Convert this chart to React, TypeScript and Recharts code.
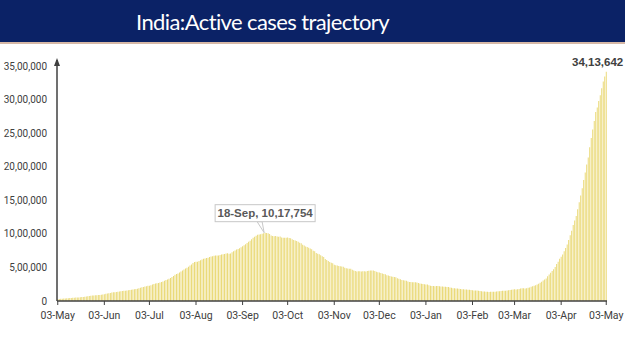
import { BarChart, Bar, XAxis, YAxis, LabelList } from 'recharts'

// daily active cases, 03-May-2020 .. 03-May-2021
const startDate = '2020-05-03'

const may20 = [
  28046, 29453, 32138, 33514, 35902, 37916, 39834, 41472, 44029, 46008,
  47480, 49219, 51401, 53035, 53946, 56316, 58802, 61149, 63624, 66330,
  69597, 73560, 77103, 80722, 83004, 86110, 86422, 89987, 89995,
]
const jun20 = [
  93322, 97581, 101497, 106737, 110960, 115942, 119293, 125381, 129917, 129215,
  133632, 137448, 141842, 145779, 149348, 153106, 153178, 155227, 160384, 163248,
  168269, 169451, 174387, 178014, 183022, 189463, 197387, 203051, 210120, 215125,
]
const jul20 = [
  220114, 226947, 227439, 235433, 244814, 253287, 259557, 264944, 269789, 276882,
  283407, 292258, 301609, 311565, 319840, 331146, 342473, 358692, 373379, 390459,
  402529, 411133, 426167, 440135, 456071, 467882, 485114, 496988, 509447, 528242, 545318,
]
const aug20 = [
  565103, 579357, 586244, 586298, 595501, 607384, 619088, 628747, 634945, 639929,
  643948, 653622, 661595, 668220, 673166, 676514, 677444, 676900, 686395, 692028,
  697330, 698850, 707668, 710771, 704348, 707267, 725991, 742023, 752424, 765302, 774000,
]
const sep20 = [
  785996, 801282, 815538, 831124, 846395, 862320, 883697, 897394, 919018, 943480,
  958316, 973175, 986598, 990061, 995933, 1003299, 1009976, 1017754, 1013964, 1010824,
  997871, 975861, 968377, 966382, 970116, 960969, 956402, 962640, 947576, 940441,
]
const oct20 = [
  942217, 940705, 944996, 937625, 934427, 919023, 907883, 902425, 893592, 883185,
  867496, 861853, 838729, 826876, 812390, 804528, 795087, 783311, 772055, 748538,
  740090, 715812, 703440, 695509, 680680, 668154, 653717, 625857, 610803, 594386, 582649,
]
const nov20 = [
  570458, 561908, 541405, 533787, 527962, 520773, 516632, 512665, 509673, 494657,
  489294, 484547, 480719, 479216, 465478, 453401, 445692, 439747, 443794, 443303,
  440962, 443486, 444746, 438667, 447803, 452344, 454940, 455555, 453956, 446952,
]
const dec20 = [
  435603, 428644, 422943, 416082, 409689, 403248, 396729, 383866, 378909, 372293,
  363749, 359819, 356546, 352586, 339820, 332002, 322366, 313831, 308751, 303639,
  300881, 289240, 283849, 281919, 278690, 281000, 279000, 277301, 268581, 262272, 257656,
]
const jan21 = [
  254254, 250183, 247220, 243953, 234000, 228083, 224190, 222526, 220676, 223335,
  222416, 219000, 216558, 214507, 213603, 211033, 208826, 206762, 200528, 197201,
  190581, 188688, 187000, 185662, 184182, 178818, 176498, 173740, 172018, 171686, 168784,
]
const feb21 = [
  166000, 163353, 160057, 158000, 155025, 154703, 151460, 149000, 145000, 142562,
  140000, 138000, 136872, 135926, 136549, 137342, 138373, 139542, 143127, 145634,
  146907, 150055, 151708, 153000, 154000, 156800, 160000, 164511,
]
const mar21 = [
  168358, 170126, 173413, 173000, 176319, 180304, 184523, 188747, 189226, 187462,
  191000, 197237, 202022, 210544, 219262, 228569, 234406, 246000, 258000, 271282,
  288394, 303639, 320000, 334646, 368457, 395192, 421066, 446000, 473000, 505000, 552566,
]
const apr21 = [
  584055, 630000, 658909, 691597, 741830, 791000, 843473, 910319, 979608, 1046631,
  1133000, 1201009, 1264698, 1366000, 1471877, 1573000, 1679740, 1801316, 1913000, 2031977,
  2138000, 2291428, 2428000, 2552940, 2682751, 2813658, 2882204, 2978709, 3064000, 3168000,
]
const may21 = [3268710, 3345000, 3413642]

const tickDates = [
  '2020-05-03', '2020-06-03', '2020-07-03', '2020-08-03', '2020-09-03', '2020-10-03',
  '2020-11-03', '2020-12-03', '2021-01-03', '2021-02-03', '2021-03-03', '2021-04-03',
  '2021-05-03',
]
const yTicks = [0, 500000, 1000000, 1500000, 2000000, 2500000, 3000000, 3500000]

const peakLabel = '18-Sep, 10,17,754'
const lastLabel = '34,13,642'

const months = ['Jan', 'Feb', 'Mar', 'Apr', 'May', 'Jun', 'Jul', 'Aug', 'Sep', 'Oct', 'Nov', 'Dec']

const values = [
  ...may20, ...jun20, ...jul20, ...aug20, ...sep20, ...oct20,
  ...nov20, ...dec20, ...jan21, ...feb21, ...mar21, ...apr21, ...may21,
]

const data = values.map((active, i) => {
  const d = new Date(startDate + 'T00:00:00Z')
  d.setUTCDate(d.getUTCDate() + i)
  return { date: d.toISOString().slice(0, 10), active }
})

const peakValue = Math.max(...values.slice(0, 200))
const lastValue = values[values.length - 1]

const fmtDate = (s: string) => s.slice(8, 10) + '-' + months[Number(s.slice(5, 7)) - 1]
const fmtNum = (v: number) => v.toLocaleString('en-IN')

const font = 'Roboto, "Liberation Sans", sans-serif'
const labelFont = '"Liberation Sans", Arial, sans-serif'

function BarLabel(props: any) {
  const { x, y, width, value } = props
  const cx = x + width / 2
  if (value === peakValue) {
    const bx = cx - 50
    const by = y - 28
    return (
      <g>
        <polygon
          points={`${cx - 8},${by + 17} ${cx - 1},${y} ${cx - 3},${by + 17}`}
          fill="#fff"
          stroke="#c8c8c8"
          strokeWidth={1}
        />
        <rect x={bx} y={by} width={100} height={17} fill="#fff" stroke="#c8c8c8" strokeWidth={1} />
        <text
          x={cx}
          y={by + 12.5}
          textAnchor="middle"
          fontFamily={labelFont}
          fontSize={11.5}
          fontWeight="bold"
          fill="#595959"
        >
          {peakLabel}
        </text>
      </g>
    )
  }
  if (value === lastValue) {
    return (
      <text
        x={cx + 17}
        y={y - 6}
        textAnchor="end"
        fontFamily={labelFont}
        fontSize={11.5}
        fontWeight="bold"
        fill="#404040"
      >
        {lastLabel}
      </text>
    )
  }
  return null
}

export default function App() {
  return (
    <div style={{ position: 'fixed', left: 0, top: 0, width: 625, height: 351, background: '#fff' }}>
      <BarChart
        width={625}
        height={351}
        data={data}
        barCategoryGap="20%"
        margin={{ top: 60, right: 18, bottom: 20, left: 5 }}
      >
        <XAxis
          dataKey="date"
          ticks={tickDates}
          interval={0}
          tickFormatter={fmtDate}
          height={30}
          tickSize={4}
          tickMargin={7}
          axisLine={{ stroke: '#404040', strokeWidth: 1.5 }}
          tickLine={{ stroke: '#404040' }}
          tick={{ fontFamily: font, fontSize: 10.5, fill: '#404040' }}
        />
        <YAxis
          width={52}
          domain={[0, 3590000]}
          ticks={yTicks}
          tickFormatter={fmtNum}
          tickLine={false}
          tickMargin={4}
          axisLine={{ stroke: '#404040', strokeWidth: 1.5 }}
          tick={{ fontFamily: font, fontSize: 10, fill: '#404040' }}
        />
        <Bar dataKey="active" fill="#e8d66c" isAnimationActive={false}>
          <LabelList dataKey="active" content={BarLabel} />
        </Bar>
      </BarChart>
      <svg
        width={625}
        height={351}
        style={{ position: 'absolute', left: 0, top: 0, pointerEvents: 'none' }}
      >
        <polygon points="54,66 57,58 60,66" fill="#404040" />
      </svg>
      <div
        style={{
          position: 'absolute',
          left: 0,
          top: 0,
          width: 625,
          height: 42,
          background: '#0b2266',
          borderBottom: '2px solid #d6b8a6',
        }}
      >
        <div
          style={{
            width: 525,
            color: '#fff',
            fontFamily: 'Lato, sans-serif',
            fontSize: 22,
            letterSpacing: -0.6,
            lineHeight: '44px',
            textAlign: 'center',
          }}
        >
          India:Active cases trajectory
        </div>
      </div>
    </div>
  )
}
